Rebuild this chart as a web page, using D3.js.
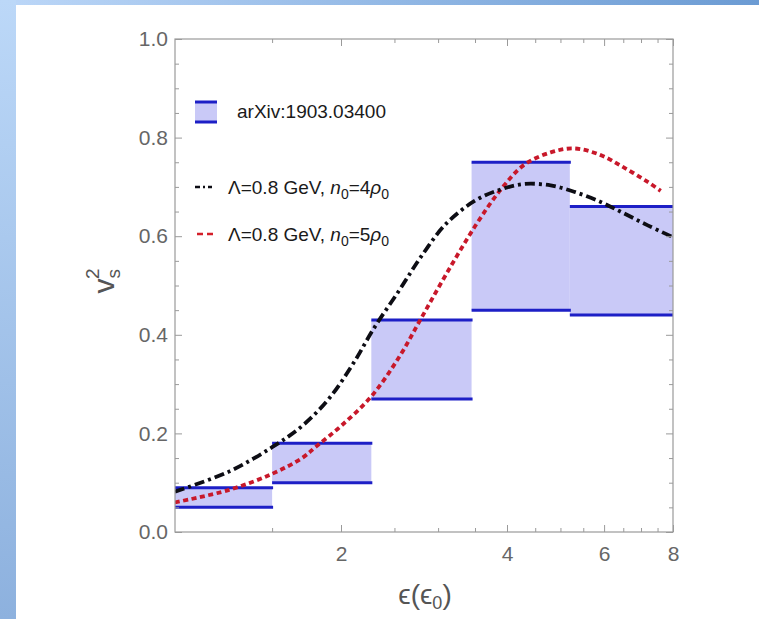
<!DOCTYPE html>
<html>
<head>
<meta charset="utf-8">
<script src="https://cdn.jsdelivr.net/npm/d3@7"></script>
<style>
  body { margin: 0; background: #fff; }
  svg { display: block; }
  text { font-family: "Liberation Sans", Arial, "DejaVu Sans", sans-serif; }
</style>
</head>
<body>
<svg id="chart" width="759" height="619"></svg>
<script>
// Energy-density bins (in units of eps0) and the allowed sound-speed band in each
const binEdges = [1, 1.5, 2.27, 3.45, 5.2, 8];
const bandLow  = [0.05, 0.10, 0.27, 0.45, 0.44];
const bandHigh = [0.09, 0.18, 0.43, 0.75, 0.66];

// Model curves: Lambda = 0.8 GeV, n0 = 4 rho0 (black) and n0 = 5 rho0 (red)
const curveEps4 = [1, 1.25, 1.5, 1.7, 1.9, 2.1, 2.3, 2.55, 2.8, 3.1, 3.5, 3.9, 4.3, 4.8, 5.3, 5.9, 6.5, 7.2, 8];
const curveCs4  = [0.082, 0.122, 0.172, 0.215, 0.27, 0.34, 0.415, 0.49, 0.56, 0.625, 0.672, 0.695, 0.706, 0.703, 0.69, 0.67, 0.647, 0.622, 0.598];
const curveEps5 = [1, 1.25, 1.5, 1.7, 1.81, 2, 2.27, 2.55, 2.8, 3.1, 3.5, 3.9, 4.3, 4.8, 5.3, 5.9, 6.5, 7.2, 7.6];
const curveCs5  = [0.06, 0.085, 0.118, 0.15, 0.175, 0.215, 0.275, 0.355, 0.435, 0.522, 0.62, 0.695, 0.745, 0.77, 0.778, 0.765, 0.74, 0.71, 0.692];

// Axis ticks
const xMajor = [2, 4, 6, 8];
const xMinor = [1.5, 2.5, 3, 3.5, 4.5, 5, 5.5, 6.5, 7, 7.5];
const yMajor = [0, 0.2, 0.4, 0.6, 0.8, 1.0];
const yMinor = [0.05, 0.1, 0.15, 0.25, 0.3, 0.35, 0.45, 0.5, 0.55, 0.65, 0.7, 0.75, 0.85, 0.9, 0.95];

const svg = d3.select("#chart");
const W = 759, H = 619;

// Slide-style frame: gradient bands along the top and left edges
const defs = svg.append("defs");
const gTop = defs.append("linearGradient").attr("id", "gTop").attr("x1", 0).attr("x2", 1).attr("y1", 0).attr("y2", 0);
gTop.append("stop").attr("offset", 0).attr("stop-color", "#bcd7f8");
gTop.append("stop").attr("offset", 1).attr("stop-color", "#6b9bd3");
const gLeft = defs.append("linearGradient").attr("id", "gLeft").attr("x1", 0).attr("x2", 0).attr("y1", 0).attr("y2", 1);
gLeft.append("stop").attr("offset", 0).attr("stop-color", "#bcd8f8");
gLeft.append("stop").attr("offset", 1).attr("stop-color", "#8db1de");
svg.append("rect").attr("width", W).attr("height", H).attr("fill", "#fff");
svg.append("rect").attr("x", 0).attr("y", 0).attr("width", W).attr("height", 5).attr("fill", "url(#gTop)");
svg.append("rect").attr("x", 0).attr("y", 0).attr("width", 16).attr("height", H).attr("fill", "url(#gLeft)");

const plot = { left: 175, right: 673, top: 39, bottom: 532 };
const x = d3.scaleLog().domain([1, 8]).range([plot.left, plot.right]);
const y = d3.scaleLinear().domain([0, 1]).range([plot.bottom, plot.top]);

defs.append("clipPath").attr("id", "plotClip").append("rect")
  .attr("x", plot.left).attr("y", plot.top)
  .attr("width", plot.right - plot.left).attr("height", plot.bottom - plot.top);

const BAND_FILL = "#c9c9f7";
const BAND_LINE = "#1d1fc6";

// Bands
const bins = bandLow.map((lo, i) => ({ x0: binEdges[i], x1: binEdges[i + 1], lo, hi: bandHigh[i] }));
const bandG = svg.append("g").attr("clip-path", "url(#plotClip)");
bandG.selectAll("rect.band").data(bins).join("rect")
  .attr("class", "band")
  .attr("x", d => x(d.x0)).attr("width", d => x(d.x1) - x(d.x0))
  .attr("y", d => y(d.hi)).attr("height", d => y(d.lo) - y(d.hi))
  .attr("fill", BAND_FILL);
["lo", "hi"].forEach(k => {
  bandG.selectAll("line.b" + k).data(bins).join("line")
    .attr("class", "b" + k)
    .attr("x1", d => x(d.x0)).attr("x2", d => x(d.x1) + 1)
    .attr("y1", d => y(d[k])).attr("y2", d => y(d[k]))
    .attr("stroke", BAND_LINE).attr("stroke-width", 3);
});

// Curves
const line = d3.line().x(d => x(d[0])).y(d => y(d[1])).curve(d3.curveCatmullRom.alpha(0.5));
const curveG = svg.append("g").attr("clip-path", "url(#plotClip)");
curveG.append("path")
  .attr("d", line(curveEps5.map((e, i) => [e, curveCs5[i]])))
  .attr("fill", "none").attr("stroke", "#c8182a").attr("stroke-width", 3.8)
  .attr("stroke-dasharray", "5 3.5");
curveG.append("path")
  .attr("d", line(curveEps4.map((e, i) => [e, curveCs4[i]])))
  .attr("fill", "none").attr("stroke", "#0d0d14").attr("stroke-width", 3.8)
  .attr("stroke-dasharray", "10 4 3 4");

// Frame and axes
const AX = "#9a9a9a";
svg.append("rect")
  .attr("x", plot.left).attr("y", plot.top)
  .attr("width", plot.right - plot.left).attr("height", plot.bottom - plot.top)
  .attr("fill", "none").attr("stroke", AX).attr("stroke-width", 1.2);

function styleAxis(g) {
  g.select(".domain").remove();
  g.selectAll(".tick line").attr("stroke", AX).attr("stroke-width", 1);
  g.selectAll(".tick text").attr("fill", "#666").style("font-size", "21px");
}

const fmtY = d3.format(".1f");
svg.append("g").attr("transform", `translate(0,${plot.bottom})`)
  .call(d3.axisBottom(x).tickValues(xMajor).tickFormat(d3.format("d")).tickSize(-7).tickSizeOuter(0).tickPadding(14))
  .call(styleAxis);
svg.append("g").attr("transform", `translate(0,${plot.bottom})`)
  .call(d3.axisBottom(x).tickValues(xMinor).tickFormat("").tickSize(-4).tickSizeOuter(0))
  .call(styleAxis);
svg.append("g").attr("transform", `translate(0,${plot.top})`)
  .call(d3.axisTop(x).tickValues(xMajor).tickFormat("").tickSize(-7).tickSizeOuter(0))
  .call(styleAxis);
svg.append("g").attr("transform", `translate(0,${plot.top})`)
  .call(d3.axisTop(x).tickValues(xMinor).tickFormat("").tickSize(-4).tickSizeOuter(0))
  .call(styleAxis);
svg.append("g").attr("transform", `translate(${plot.left},0)`)
  .call(d3.axisLeft(y).tickValues(yMajor).tickFormat(fmtY).tickSize(-7).tickSizeOuter(0).tickPadding(7))
  .call(styleAxis);
svg.append("g").attr("transform", `translate(${plot.left},0)`)
  .call(d3.axisLeft(y).tickValues(yMinor).tickFormat("").tickSize(-4).tickSizeOuter(0))
  .call(styleAxis);
svg.append("g").attr("transform", `translate(${plot.right},0)`)
  .call(d3.axisRight(y).tickValues(yMajor).tickFormat("").tickSize(-7).tickSizeOuter(0))
  .call(styleAxis);
svg.append("g").attr("transform", `translate(${plot.right},0)`)
  .call(d3.axisRight(y).tickValues(yMinor).tickFormat("").tickSize(-4).tickSizeOuter(0))
  .call(styleAxis);

// Axis titles
const xt = svg.append("text").attr("x", 425).attr("y", 604)
  .attr("text-anchor", "middle").attr("fill", "#555").style("font-size", "28px");
xt.append("tspan").text("\u03F5(\u03F5");
xt.append("tspan").attr("dy", 5).style("font-size", "18px").text("0");
xt.append("tspan").attr("dy", -5).text(")");

const yt = svg.append("text").attr("transform", "translate(114,281) rotate(-90)")
  .attr("text-anchor", "middle").attr("fill", "#555").style("font-size", "30px");
yt.append("tspan").text("v");
yt.append("tspan").attr("dy", 6).style("font-size", "19px").text("s");
yt.append("tspan").attr("dx", -10).attr("dy", -21).style("font-size", "19px").text("2");

// Legend
const lg = svg.append("g");
lg.append("rect").attr("x", 195).attr("y", 102).attr("width", 22).attr("height", 20).attr("fill", BAND_FILL);
[102, 122].forEach(yy => lg.append("line").attr("x1", 195).attr("x2", 217).attr("y1", yy).attr("y2", yy)
  .attr("stroke", BAND_LINE).attr("stroke-width", 3));
lg.append("text").attr("x", 237).attr("y", 118).attr("fill", "#1a1a1a").style("font-size", "19px").text("arXiv:1903.03400");

lg.append("line").attr("x1", 195).attr("x2", 212).attr("y1", 187).attr("y2", 187)
  .attr("stroke", "#0d0d14").attr("stroke-width", 2.4).attr("stroke-dasharray", "5 3 2 3");
lg.append("line").attr("x1", 197).attr("x2", 216).attr("y1", 234).attr("y2", 234)
  .attr("stroke", "#d41f2a").attr("stroke-width", 2.4).attr("stroke-dasharray", "6 4");

function modelLabel(yy, n) {
  const t = lg.append("text").attr("x", 228).attr("y", yy).attr("fill", "#1a1a1a").style("font-size", "19px");
  t.append("tspan").text("\u039B=0.8 GeV, ");
  t.append("tspan").style("font-style", "italic").text("n");
  t.append("tspan").attr("dy", 5).style("font-size", "14px").text("0");
  t.append("tspan").attr("dy", -5).text("=" + n);
  t.append("tspan").style("font-style", "italic").text("\u03C1");
  t.append("tspan").attr("dy", 5).style("font-size", "14px").text("0");
}
modelLabel(194, 4);
modelLabel(241, 5);
</script>
</body>
</html>
